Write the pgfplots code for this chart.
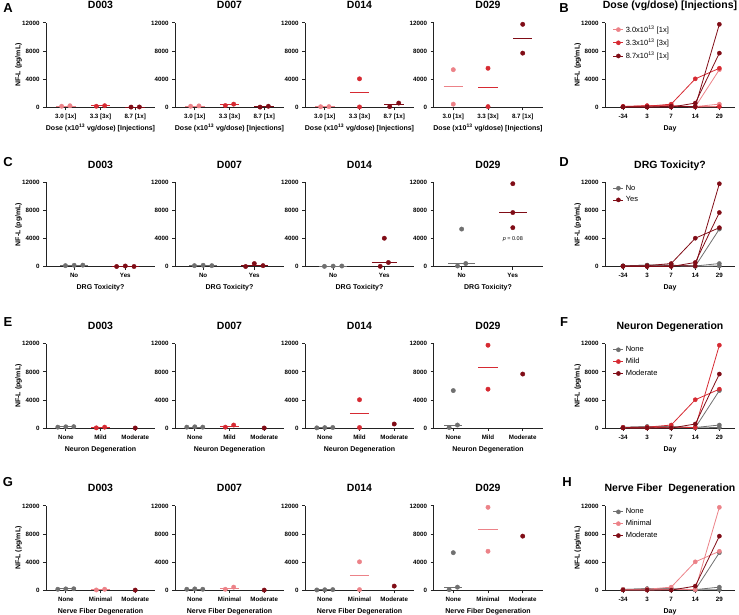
\documentclass[border=0pt]{standalone}
\usepackage{pgfplots}
\pgfplotsset{compat=1.18}
\usepackage{fontspec}
\setmainfont{Liberation Sans}
\definecolor{pk}{RGB}{236,130,136}
\definecolor{rd}{RGB}{214,42,50}
\definecolor{dk}{RGB}{128,12,22}
\definecolor{gy}{RGB}{112,112,112}
\definecolor{ax}{RGB}{35,35,35}
\pgfplotsset{
 base/.style={scale only axis, clip=false, height=84.4pt, anchor=south west,
  axis x line*=bottom, axis y line*=left,
  axis line style={-, line width=0.95pt, ax},
  tick style={line width=0.95pt, ax},
  tick align=outside, major tick length=3pt,
  ymin=0, ymax=12000, ytick={0,4000,8000,12000}, yticklabels={0,4000,8000,12000},
  scaled y ticks=false,
  ticklabel style={font=\bfseries\fontsize{6.2}{7}\selectfont},
  title style={font=\bfseries\fontsize{10.5}{12}\selectfont, at={(0.5,1)}, anchor=base, yshift=8pt},
  xlabel style={font=\bfseries\fontsize{7}{8}\selectfont, at={(axis description cs:0.5,0)}, anchor=base, yshift=-23pt},
  ylabel style={font=\bfseries\fontsize{7}{8}\selectfont, anchor=base},
 },
 sc3/.style={base, width=109pt, xmin=0.43, xmax=3.57, xtick={1,2,3}},
 sc2/.style={base, width=109pt, xmin=0.45, xmax=2.58, xtick={1,2}},
 ln/.style={base, width=130pt, xmin=-0.75, xmax=4.65, xtick={0,1,2,3,4}, xticklabels={-34,3,7,14,29},
   xlabel={Day}, ylabel={NF-L (pg/mL)}, ylabel style={at={(axis description cs:-0.196,0.5)}},
   legend style={draw=none, fill=none, at={(0.06,0.995)}, anchor=north west, font=\fontsize{7.5}{8.5}\selectfont, row sep=1pt, inner sep=0pt},
   legend cell align=left,
   legend image code/.code={\draw[mark repeat=2,mark phase=2,##1] plot coordinates {(0pt,0pt)(5pt,0pt)(10pt,0pt)};}},
 yl/.style={ylabel={NF-L (pg/mL)}, ylabel style={at={(axis description cs:-0.234,0.5)}}},
 pt/.style={only marks, mark=*, mark size=2.2pt, color=#1, mark options={fill=#1, draw=#1}},
 md/.style={color=#1, line width=1pt, mark=none},
 lnp/.style={color=#1, line width=0.8pt, mark=*, mark size=2.1pt, mark options={fill=#1, draw=#1, solid, line width=0.4pt}},
}
\begin{document}
\begin{tikzpicture}
\path[use as bounding box] (0,0) rectangle (739pt,-614pt);
\tikzset{lett/.style={font=\bfseries\fontsize{13}{14}\selectfont, anchor=center}}
\node[lett] at (8pt,-8.3pt) {A};
\node[lett] at (564pt,-8pt) {B};
\node[lett] at (8pt,-162pt) {C};
\node[lett] at (564pt,-162pt) {D};
\node[lett] at (8pt,-322.3pt) {E};
\node[lett] at (564pt,-322pt) {F};
\node[lett] at (8pt,-481.7pt) {G};
\node[lett] at (567pt,-481.7pt) {H};

% ---------------- Row A ----------------
\begin{axis}[sc3, yl, at={(46pt,-107.3pt)}, title={D003}, xticklabels={{3.0 [1x]},{3.3 [3x]},{8.7 [1x]}}, xlabel={Dose (x10\textsuperscript{13} vg/dose) [Injections]}]
\addplot[md=pk] coordinates {(0.72,185)(1.28,185)};
\addplot[md=rd] coordinates {(1.72,190)(2.28,190)};
\addplot[md=dk] coordinates {(2.72,40)(3.28,40)};
\addplot[pt=pk] coordinates {(0.88,150)(1.12,220)};
\addplot[pt=rd] coordinates {(1.88,150)(2.12,230)};
\addplot[pt=dk] coordinates {(2.88,30)(3.12,50)};
\end{axis}
\begin{axis}[sc3, at={(175pt,-107.3pt)}, title={D007}, xticklabels={{3.0 [1x]},{3.3 [3x]},{8.7 [1x]}}, xlabel={Dose (x10\textsuperscript{13} vg/dose) [Injections]}]
\addplot[md=pk] coordinates {(0.72,175)(1.28,175)};
\addplot[md=rd] coordinates {(1.72,350)(2.28,350)};
\addplot[md=dk] coordinates {(2.72,90)(3.28,90)};
\addplot[pt=pk] coordinates {(0.88,150)(1.12,200)};
\addplot[pt=rd] coordinates {(1.88,250)(2.12,450)};
\addplot[pt=dk] coordinates {(2.88,30)(3.12,150)};
\end{axis}
\begin{axis}[sc3, at={(305pt,-107.3pt)}, title={D014}, xticklabels={{3.0 [1x]},{3.3 [3x]},{8.7 [1x]}}, xlabel={Dose (x10\textsuperscript{13} vg/dose) [Injections]}]
\addplot[md=pk] coordinates {(0.72,90)(1.28,90)};
\addplot[md=rd] coordinates {(1.72,2050)(2.28,2050)};
\addplot[md=dk] coordinates {(2.72,350)(3.28,350)};
\addplot[pt=pk] coordinates {(0.88,80)(1.12,100)};
\addplot[pt=rd] coordinates {(2,4050)(2,50)};
\addplot[pt=dk] coordinates {(2.87,100)(3.13,600)};
\end{axis}
\begin{axis}[sc3, at={(433.5pt,-107.3pt)}, title={D029}, xticklabels={{3.0 [1x]},{3.3 [3x]},{8.7 [1x]}}, xlabel={Dose (x10\textsuperscript{13} vg/dose) [Injections]}]
\addplot[md=pk] coordinates {(0.72,2900)(1.28,2900)};
\addplot[md=rd] coordinates {(1.72,2825)(2.28,2825)};
\addplot[md=dk] coordinates {(2.72,9750)(3.28,9750)};
\addplot[pt=pk] coordinates {(1,5350)(1,450)};
\addplot[pt=rd] coordinates {(2,5550)(2,100)};
\addplot[pt=dk] coordinates {(3,11800)(3,7700)};
\end{axis}
\begin{axis}[ln, at={(605pt,-107.3pt)}, title={Dose (vg/dose) [Injections]}]
\addplot[lnp=pk] coordinates {(0,100)(1,150)(2,150)(3,80)(4,5350)};
\addlegendentry{3.0x10\textsuperscript{13} [1x]}
\addplot[lnp=pk, forget plot] coordinates {(0,120)(1,220)(2,200)(3,100)(4,450)};
\addplot[lnp=rd] coordinates {(0,100)(1,150)(2,450)(3,4050)(4,5550)};
\addlegendentry{3.3x10\textsuperscript{13} [3x]}
\addplot[lnp=rd, forget plot] coordinates {(0,110)(1,230)(2,220)(3,50)(4,100)};
\addplot[lnp=dk] coordinates {(0,60)(1,30)(2,150)(3,100)(4,11800)};
\addlegendentry{8.7x10\textsuperscript{13} [1x]}
\addplot[lnp=dk, forget plot] coordinates {(0,50)(1,50)(2,30)(3,600)(4,7700)};
\end{axis}

% ---------------- Row C ----------------
\begin{axis}[sc2, yl, at={(46pt,-266.7pt)}, title={D003}, xticklabels={No,Yes}, xlabel={DRG Toxicity?}]
\addplot[md=gy] coordinates {(0.73,200)(1.27,200)};
\addplot[md=dk] coordinates {(1.73,30)(2.27,30)};
\addplot[pt=gy] coordinates {(0.83,150)(1,200)(1.17,220)};
\addplot[pt=dk] coordinates {(1.83,30)(2,100)(2.17,30)};
\end{axis}
\begin{axis}[sc2, at={(175pt,-266.7pt)}, title={D007}, xticklabels={No,Yes}, xlabel={DRG Toxicity?}]
\addplot[md=gy] coordinates {(0.73,150)(1.27,150)};
\addplot[md=dk] coordinates {(1.73,150)(2.27,150)};
\addplot[pt=gy] coordinates {(0.83,150)(1,200)(1.17,150)};
\addplot[pt=dk] coordinates {(1.83,30)(2,450)(2.17,150)};
\end{axis}
\begin{axis}[sc2, at={(305pt,-266.7pt)}, title={D014}, xticklabels={No,Yes}, xlabel={DRG Toxicity?}]
\addplot[md=gy] coordinates {(0.73,80)(1.27,80)};
\addplot[md=dk] coordinates {(1.75,600)(2.25,600)};
\addplot[pt=gy] coordinates {(0.83,50)(1,80)(1.17,100)};
\addplot[pt=dk] coordinates {(1.92,50)(2,4050)(2.08,600)};
\end{axis}
\begin{axis}[sc2, at={(433.5pt,-266.7pt)}, title={D029}, xticklabels={No,Yes}, xlabel={DRG Toxicity?}]
\addplot[md=gy] coordinates {(0.73,450)(1.27,450)};
\addplot[md=dk] coordinates {(1.73,7700)(2.27,7700)};
\addplot[pt=gy] coordinates {(0.92,100)(1,5350)(1.08,450)};
\addplot[pt=dk] coordinates {(2,11800)(2,7700)(2,5550)};
\node[font=\fontsize{5.5}{6}\selectfont] at (axis cs:2,3950) {\textit{p} = 0.08};
\end{axis}
\begin{axis}[ln, at={(605pt,-266.7pt)}, title={DRG Toxicity?}]
\addplot[lnp=gy] coordinates {(0,100)(1,150)(2,150)(3,80)(4,5350)};
\addlegendentry{No}
\addplot[lnp=gy, forget plot] coordinates {(0,120)(1,220)(2,200)(3,100)(4,450)};
\addplot[lnp=gy, forget plot] coordinates {(0,110)(1,230)(2,220)(3,50)(4,100)};
\addplot[lnp=dk] coordinates {(0,100)(1,150)(2,450)(3,4050)(4,5550)};
\addlegendentry{Yes}
\addplot[lnp=dk, forget plot] coordinates {(0,60)(1,30)(2,150)(3,100)(4,11800)};
\addplot[lnp=dk, forget plot] coordinates {(0,50)(1,50)(2,30)(3,600)(4,7700)};
\end{axis}

% ---------------- Row E ----------------
\begin{axis}[sc3, yl, at={(46pt,-428.2pt)}, title={D003}, xticklabels={None,Mild,Moderate}, xlabel={Neuron Degeneration}]
\addplot[md=gy] coordinates {(0.72,200)(1.28,200)};
\addplot[md=rd] coordinates {(1.72,100)(2.28,100)};
\addplot[pt=gy] coordinates {(0.77,150)(1,200)(1.23,220)};
\addplot[pt=rd] coordinates {(1.88,50)(2.12,150)};
\addplot[pt=dk] coordinates {(3,30)};
\end{axis}
\begin{axis}[sc3, at={(175pt,-428.2pt)}, title={D007}, xticklabels={None,Mild,Moderate}, xlabel={Neuron Degeneration}]
\addplot[md=gy] coordinates {(0.72,150)(1.28,150)};
\addplot[md=rd] coordinates {(1.72,300)(2.28,300)};
\addplot[pt=gy] coordinates {(0.77,150)(1,200)(1.23,150)};
\addplot[pt=rd] coordinates {(1.88,150)(2.12,450)};
\addplot[pt=dk] coordinates {(3,30)};
\end{axis}
\begin{axis}[sc3, at={(305pt,-428.2pt)}, title={D014}, xticklabels={None,Mild,Moderate}, xlabel={Neuron Degeneration}]
\addplot[md=gy] coordinates {(0.72,80)(1.28,80)};
\addplot[md=rd] coordinates {(1.72,2075)(2.28,2075)};
\addplot[pt=gy] coordinates {(0.77,50)(1,80)(1.23,100)};
\addplot[pt=rd] coordinates {(2,4050)(2,100)};
\addplot[pt=dk] coordinates {(3,600)};
\end{axis}
\begin{axis}[sc3, at={(433.5pt,-428.2pt)}, title={D029}, xticklabels={None,Mild,Moderate}, xlabel={Neuron Degeneration}]
\addplot[md=gy] coordinates {(0.74,450)(1.26,450)};
\addplot[md=rd] coordinates {(1.72,8675)(2.28,8675)};
\addplot[pt=gy] coordinates {(0.88,100)(1,5350)(1.12,450)};
\addplot[pt=rd] coordinates {(2,11800)(2,5550)};
\addplot[pt=dk] coordinates {(3,7700)};
\end{axis}
\begin{axis}[ln, at={(605pt,-428.2pt)}, title={Neuron Degeneration}]
\addplot[lnp=gy] coordinates {(0,100)(1,150)(2,150)(3,80)(4,5350)};
\addlegendentry{None}
\addplot[lnp=gy, forget plot] coordinates {(0,120)(1,220)(2,200)(3,100)(4,450)};
\addplot[lnp=gy, forget plot] coordinates {(0,110)(1,230)(2,220)(3,50)(4,100)};
\addplot[lnp=rd] coordinates {(0,100)(1,150)(2,450)(3,4050)(4,5550)};
\addlegendentry{Mild}
\addplot[lnp=rd, forget plot] coordinates {(0,60)(1,30)(2,150)(3,100)(4,11800)};
\addplot[lnp=dk] coordinates {(0,50)(1,50)(2,30)(3,600)(4,7700)};
\addlegendentry{Moderate}
\end{axis}

% ---------------- Row G ----------------
\begin{axis}[sc3, yl, at={(46pt,-590.3pt)}, title={D003}, xticklabels={None,Minimal,Moderate}, xlabel={Nerve Fiber Degeneration}]
\addplot[md=gy] coordinates {(0.72,200)(1.28,200)};
\addplot[md=pk] coordinates {(1.72,100)(2.28,100)};
\addplot[pt=gy] coordinates {(0.77,150)(1,200)(1.23,220)};
\addplot[pt=pk] coordinates {(1.88,50)(2.12,150)};
\addplot[pt=dk] coordinates {(3,30)};
\end{axis}
\begin{axis}[sc3, at={(175pt,-590.3pt)}, title={D007}, xticklabels={None,Minimal,Moderate}, xlabel={Nerve Fiber Degeneration}]
\addplot[md=gy] coordinates {(0.72,150)(1.28,150)};
\addplot[md=pk] coordinates {(1.72,300)(2.28,300)};
\addplot[pt=gy] coordinates {(0.77,150)(1,200)(1.23,150)};
\addplot[pt=pk] coordinates {(1.88,150)(2.12,450)};
\addplot[pt=dk] coordinates {(3,30)};
\end{axis}
\begin{axis}[sc3, at={(305pt,-590.3pt)}, title={D014}, xticklabels={None,Minimal,Moderate}, xlabel={Nerve Fiber Degeneration}]
\addplot[md=gy] coordinates {(0.72,80)(1.28,80)};
\addplot[md=pk] coordinates {(1.72,2075)(2.28,2075)};
\addplot[pt=gy] coordinates {(0.77,50)(1,80)(1.23,100)};
\addplot[pt=pk] coordinates {(2,4050)(2,100)};
\addplot[pt=dk] coordinates {(3,600)};
\end{axis}
\begin{axis}[sc3, at={(433.5pt,-590.3pt)}, title={D029}, xticklabels={None,Minimal,Moderate}, xlabel={Nerve Fiber Degeneration}]
\addplot[md=gy] coordinates {(0.74,450)(1.26,450)};
\addplot[md=pk] coordinates {(1.72,8675)(2.28,8675)};
\addplot[pt=gy] coordinates {(0.88,100)(1,5350)(1.12,450)};
\addplot[pt=pk] coordinates {(2,11800)(2,5550)};
\addplot[pt=dk] coordinates {(3,7700)};
\end{axis}
\begin{axis}[ln, at={(605pt,-590.3pt)}, title={Nerve Fiber\ \ Degeneration}]
\addplot[lnp=gy] coordinates {(0,100)(1,150)(2,150)(3,80)(4,5350)};
\addlegendentry{None}
\addplot[lnp=gy, forget plot] coordinates {(0,120)(1,220)(2,200)(3,100)(4,450)};
\addplot[lnp=gy, forget plot] coordinates {(0,110)(1,230)(2,220)(3,50)(4,100)};
\addplot[lnp=pk] coordinates {(0,100)(1,150)(2,450)(3,4050)(4,5550)};
\addlegendentry{Minimal}
\addplot[lnp=pk, forget plot] coordinates {(0,60)(1,30)(2,150)(3,100)(4,11800)};
\addplot[lnp=dk] coordinates {(0,50)(1,50)(2,30)(3,600)(4,7700)};
\addlegendentry{Moderate}
\end{axis}
\end{tikzpicture}
\end{document}
